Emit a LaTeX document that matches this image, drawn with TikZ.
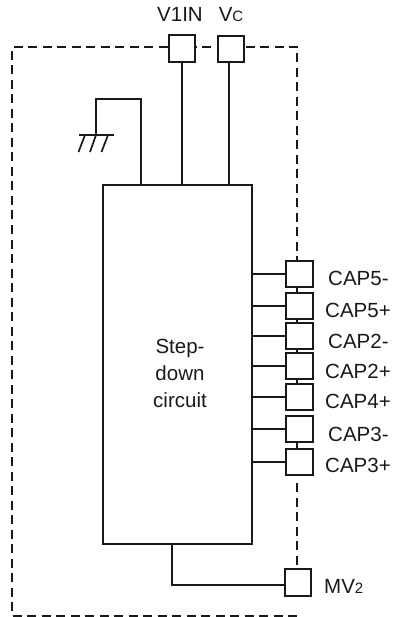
\documentclass[tikz,border=0pt]{standalone}
\usepackage{fontspec}
\setmainfont{Liberation Sans}
\tikzset{
  px/.style={x=1pt,y=-1pt},
  wire/.style={draw=black!90,line width=1.7pt},
  pad/.style={draw=black!90,fill=white,line width=1.7pt,minimum width=26.5pt,minimum height=26.5pt,inner sep=0pt,outer sep=0pt},
  border/.style={black!90,line width=1.7pt,dash pattern=on 9pt off 5.5pt},
  lab/.style={inner sep=0pt,font=\fontsize{20.5}{24}\selectfont,text=black!90}
}
\newcommand{\smallsub}[1]{{\fontsize{15}{15}\selectfont #1}}
\begin{document}
\begin{tikzpicture}[px]
\useasboundingbox (0,0) rectangle (393,617);
\draw[border] (297,616) -- (12,616) -- (12,47) -- (297,47) -- (297,262);
\draw[border] (297,483) -- (297,570);
\draw[black!90,line width=1.7pt] (297,285) -- (297,295) (297,317) -- (297,325) (297,348) -- (297,355) (297,378) -- (297,386) (297,440) -- (297,450);
\node[draw=black!90,line width=1.7pt,minimum width=149pt,minimum height=359pt,inner sep=0pt,outer sep=0pt,align=center] (main) at (177.5,364.5) {};
\node[lab,align=center] (txt) at (180,373) {Step-\\[3pt]down\\[3pt]circuit};
\node[pad] (v1) at (182,48.5) {};
\node[pad] (vc) at (231,49) {};
\node[pad] (c1) at (299.5,274) {};
\node[pad] (c2) at (299.5,306) {};
\node[pad] (c3) at (299.5,336) {};
\node[pad] (c4) at (299.5,366) {};
\node[pad] (c5) at (299.5,397) {};
\node[pad] (c6) at (299.5,429) {};
\node[pad] (c7) at (299.5,462) {};
\node[pad] (mv) at (298,582.5) {};
\coordinate (gt) at (141,185);
\coordinate (gc) at (141,99);
\coordinate (gl) at (96,99);
\coordinate (gb) at (96,135);
\draw[wire] (gt) -- (gc) -- (gl) -- (gb);
\draw[wire] (79,135) -- (114,135);
\draw[wire] (85,135) -- (78.5,152);
\draw[wire] (96,135) -- (90,152);
\draw[wire] (108,135) -- (101.5,152);
\draw[wire] (v1.south) -- (v1.south |- main.north);
\draw[wire] (229,62) -- (229,185);
\foreach \n in {c1,c2,c3,c4,c5,c6,c7}
  \draw[wire] (\n.west) -- (\n.west -| main.east);
\coordinate (mb) at (172,544);
\draw[wire] (mb) -- (172,585) -- (mv.west |- 172,585);
\node[lab,anchor=base] (l1) at (180,22) {V1IN};
\node[lab,anchor=base] (l2) at (231,22) {V\smallsub{C}};
\node[lab,anchor=base west] (l3) at (328,285) {CAP5-};
\node[lab,anchor=base west] (l4) at (325,317) {CAP5+};
\node[lab,anchor=base west] (l5) at (328,348) {CAP2-};
\node[lab,anchor=base west] (l6) at (325,378) {CAP2+};
\node[lab,anchor=base west] (l7) at (325,408) {CAP4+};
\node[lab,anchor=base west] (l8) at (328,441) {CAP3-};
\node[lab,anchor=base west] (l9) at (325,472) {CAP3+};
\node[lab,anchor=base west] (l10) at (324,593) {MV\smallsub{2}};
\end{tikzpicture}
\end{document}
